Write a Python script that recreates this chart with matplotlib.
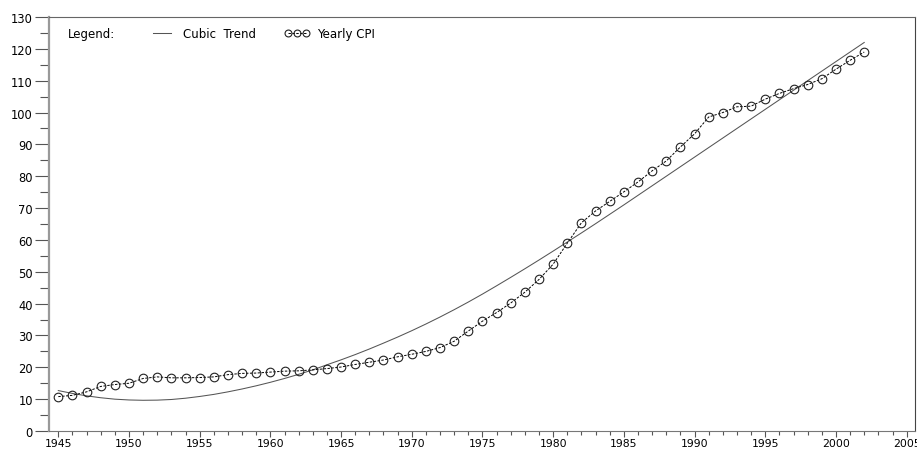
import matplotlib
matplotlib.use('Agg')
import matplotlib.pyplot as plt
from matplotlib.ticker import MultipleLocator

# years 1945 .. 2002
years = list(range(1945, 2003))

# yearly CPI
cpi = [10.8, 11.2, 12.3, 14.0, 14.6, 15.0, 16.5, 17.0, 16.7, 16.7,
       16.8, 17.0, 17.7, 18.1, 18.2, 18.5, 18.8, 18.9, 19.2, 19.6,
       20.1, 20.9, 21.6, 22.3, 23.3, 24.1, 25.0, 26.2, 28.2, 31.4,
       34.5, 37.2, 40.2, 43.6, 47.6, 52.4, 59.0, 65.4, 69.1, 72.1,
       75.1, 78.2, 81.7, 84.8, 89.2, 93.3, 98.6, 100.0, 101.8, 102.0,
       104.2, 106.0, 107.5, 108.8, 110.6, 113.6, 116.4, 119.0]

# cubic trend
trend = [12.7, 11.8, 11.05, 10.45, 10.0, 9.75, 9.65, 9.7, 9.9, 10.3,
         10.85, 11.5, 12.3, 13.2, 14.2, 15.3, 16.5, 17.8, 19.2, 20.8,
         22.35, 24.0, 25.75, 27.6, 29.5, 31.5, 33.6, 35.8, 38.1, 40.5,
         43.0, 45.6, 48.25, 50.95, 53.7, 56.5, 59.35, 62.2, 65.1, 68.05,
         71.0, 74.0, 77.0, 80.0, 83.0, 86.0, 89.0, 92.0, 95.0, 98.0,
         101.0, 104.0, 107.0, 110.0, 113.0, 116.0, 119.0, 122.0]

plt.rcParams['font.family'] = ['DejaVu Sans']

fig = plt.figure(figsize=(9.17, 4.52), dpi=100)
ax = fig.add_axes([0.0534, 0.0442, 0.9444, 0.916])

ax.plot(years, trend, color='#555555', lw=0.75, label='Cubic  Trend')
ax.plot(years, cpi, color='black', lw=0.7, linestyle=(0, (2.5, 1.5)),
        marker='o', markersize=6.2, markerfacecolor='none',
        markeredgecolor='#222222', markeredgewidth=0.8, label='Yearly CPI')

ax.set_xlim(1944.34, 2005.59)
ax.set_ylim(0, 130)

ax.xaxis.set_major_locator(MultipleLocator(5))
ax.xaxis.set_minor_locator(MultipleLocator(1))
ax.yaxis.set_major_locator(MultipleLocator(10))
ax.yaxis.set_minor_locator(MultipleLocator(5))

ax.tick_params(axis='x', which='major', direction='out', length=4.5, width=0.8,
               color='#555555', labelsize=7.8, pad=0.8)
ax.tick_params(axis='x', which='minor', direction='out', length=3, width=0.8,
               color='#555555')
ax.tick_params(axis='y', which='major', direction='out', length=10, width=0.8,
               color='#555555', labelsize=8.3, pad=1.5)
ax.tick_params(axis='y', which='minor', direction='out', length=6.5, width=0.8,
               color='#555555')

ax.spines['left'].set_color('#999999')
ax.spines['left'].set_linewidth(1.6)
ax.spines['bottom'].set_color('#777777')
ax.spines['bottom'].set_linewidth(0.8)
ax.spines['top'].set_color('#666666')
ax.spines['top'].set_linewidth(0.8)
ax.spines['right'].set_color('#444444')
ax.spines['right'].set_linewidth(0.8)

ax.text(0.022, 0.959, 'Legend:', transform=ax.transAxes, fontsize=8.5,
        va='center', ha='left')
ax.legend(loc='center left', bbox_to_anchor=(0.1166, 0.959), ncol=2,
          frameon=False, fontsize=8.5, borderpad=0, borderaxespad=0,
          handlelength=2.1, handletextpad=0.7, columnspacing=2.4,
          numpoints=3, markerscale=0.8)

fig.savefig('out.png', dpi=100)
